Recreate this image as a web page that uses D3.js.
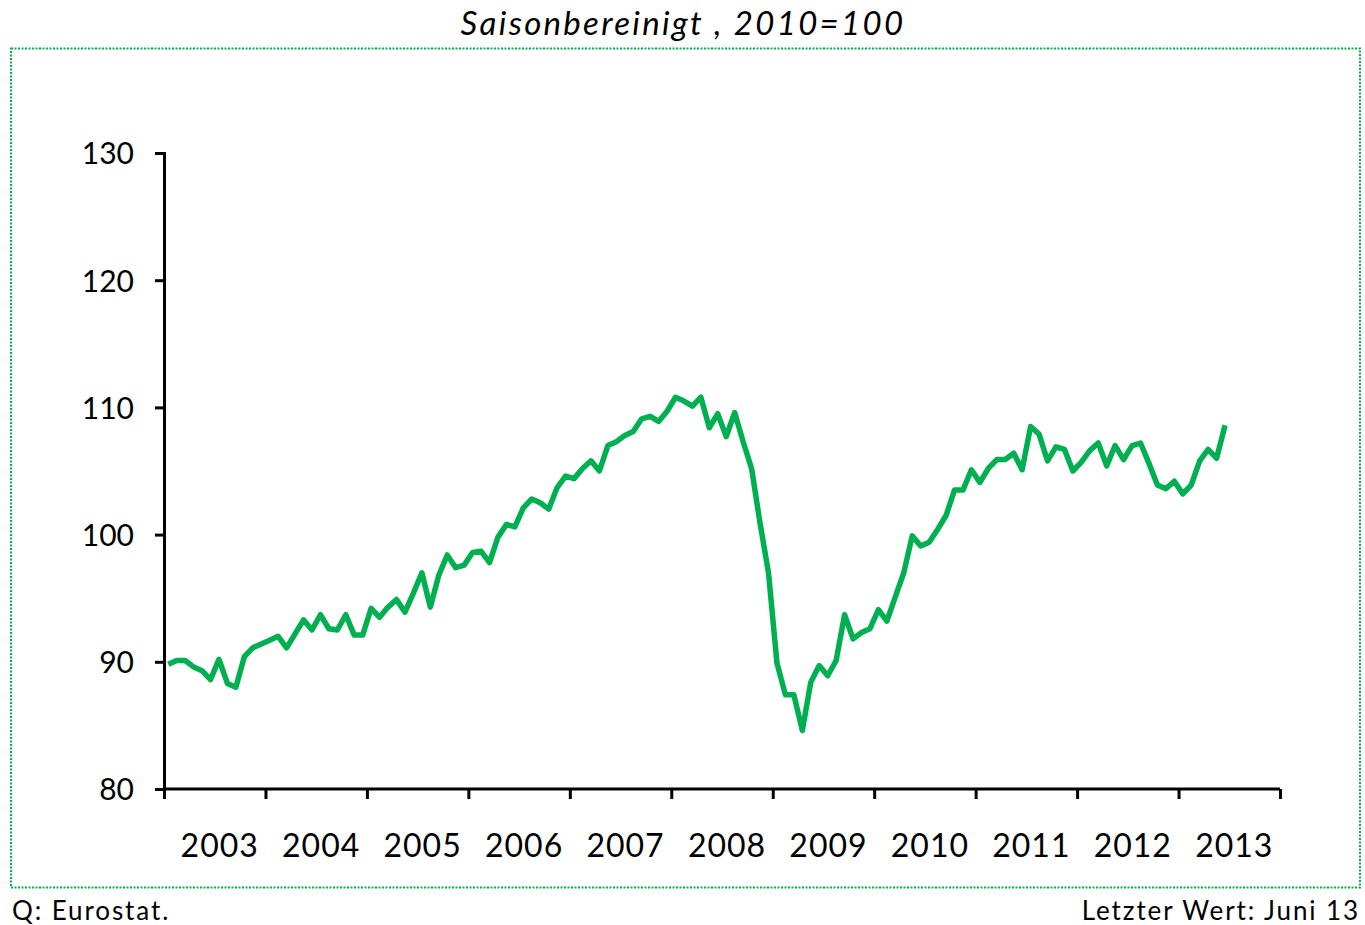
<!DOCTYPE html>
<html>
<head>
<meta charset="utf-8">
<script src="https://cdn.jsdelivr.net/npm/d3@7"></script>
<style>
  html, body { margin: 0; padding: 0; background: #fff; }
  svg { display: block; }
  text { font-family: "Century Gothic", "Lato", "DejaVu Sans", sans-serif; fill: #000; }
</style>
</head>
<body>
<svg id="chart" width="1365" height="925"></svg>
<script>
// ---- Data (monthly, Jan 2003 .. Jun 2013), index 2010 = 100 ----
const startYear = 2003;
const yearLabels = ["2003","2004","2005","2006","2007","2008","2009","2010","2011","2012","2013"];
const yTicks = [80, 90, 100, 110, 120, 130];
const values = [
  // 2003
  89.8, 90.1, 90.1, 89.6, 89.3, 88.6, 90.2, 88.3, 88.0, 90.4, 91.1, 91.4,
  // 2004
  91.7, 92.0, 91.1, 92.2, 93.3, 92.5, 93.7, 92.6, 92.5, 93.7, 92.1, 92.1,
  // 2005
  94.2, 93.5, 94.3, 94.9, 93.9, 95.4, 97.0, 94.3, 96.8, 98.4, 97.4, 97.6,
  // 2006
  98.6, 98.7, 97.8, 99.8, 100.8, 100.6, 102.1, 102.8, 102.5, 102.0, 103.7, 104.6,
  // 2007
  104.4, 105.2, 105.8, 105.0, 107.0, 107.3, 107.8, 108.1, 109.1, 109.3, 108.9, 109.7,
  // 2008
  110.8, 110.5, 110.1, 110.8, 108.4, 109.5, 107.7, 109.6, 107.3, 105.2, 100.9, 97.0,
  // 2009
  89.9, 87.4, 87.4, 84.6, 88.4, 89.7, 88.9, 90.1, 93.7, 91.8, 92.3, 92.6,
  // 2010
  94.1, 93.2, 95.1, 97.0, 99.9, 99.1, 99.4, 100.4, 101.5, 103.5, 103.5, 105.1,
  // 2011
  104.1, 105.2, 105.9, 105.9, 106.4, 105.1, 108.5, 107.9, 105.8, 106.9, 106.7, 105.0,
  // 2012
  105.7, 106.6, 107.2, 105.4, 107.0, 105.9, 107.0, 107.2, 105.6, 103.9, 103.6, 104.2,
  // 2013
  103.2, 103.9, 105.8, 106.7, 106.0, 108.6
];
const title = "Saisonbereinigt , 2010=100";
const sourceText = "Q: Eurostat.";
const lastValueText = "Letzter Wert: Juni 13";

// ---- Layout ----
const svg = d3.select("#chart");
const x0 = 164, x1 = 1280, yTop = 153, yBot = 789;
const nMonths = yearLabels.length * 12;
const green = "#00B050";

const x = d3.scaleLinear().domain([0, nMonths]).range([x0, x1]);
const y = d3.scaleLinear().domain([80, 130]).range([yBot, yTop]);

// title
svg.append("text")
  .attr("x", 683).attr("y", 35)
  .attr("text-anchor", "middle")
  .style("font-size", "33px").style("font-style", "italic")
  .style("letter-spacing", "2.3px")
  .text(title);

// dotted frame
svg.append("rect")
  .attr("x", 11).attr("y", 48.5).attr("width", 1349).attr("height", 839)
  .attr("fill", "none").attr("stroke", green).attr("stroke-width", 2)
  .attr("stroke-dasharray", "2,1.5");

// y axis
const yAxis = d3.axisLeft(y).tickValues(yTicks).tickSize(9).tickPadding(21).tickFormat(d3.format("d"));
const gy = svg.append("g").attr("transform", `translate(${x0},0)`).call(yAxis);
gy.select(".domain").attr("stroke", "#000").attr("stroke-width", 3);
gy.selectAll(".tick line").attr("stroke", "#000").attr("stroke-width", 3);
gy.selectAll(".tick text").style("font-size", "30px")
  .style("font-family", "'Century Gothic', 'Lato', sans-serif").attr("fill", "#000").attr("dy", "0.36em");

// x axis: ticks at year boundaries
const yearTicks = d3.range(0, nMonths + 1, 12);
const xAxis = d3.axisBottom(x).tickValues(yearTicks).tickSize(10).tickFormat("");
const gx = svg.append("g").attr("transform", `translate(0,${yBot})`).call(xAxis);
gx.select(".domain").attr("stroke", "#000").attr("stroke-width", 3)
  .attr("d", `M${x0},0H${x1}`);
gx.selectAll(".tick line").attr("stroke", "#000").attr("stroke-width", 3);

// year labels centred in each year interval
svg.append("g").selectAll("text")
  .data(yearLabels)
  .join("text")
  .attr("x", (d, i) => x(i * 12 + 6) + 5)
  .attr("y", 857)
  .attr("text-anchor", "middle")
  .style("font-size", "32px")
  .style("letter-spacing", "1px")
  .text(d => d);

// line
const line = d3.line()
  .x((d, i) => x(i + 0.5))
  .y(d => y(d));
svg.append("path")
  .datum(values)
  .attr("fill", "none")
  .attr("stroke", green)
  .attr("stroke-width", 5.5)
  .attr("stroke-linejoin", "round")
  .attr("d", line);

// footer
svg.append("text").attr("x", 12).attr("y", 920)
  .style("font-size", "26px").style("letter-spacing", "1.9px").text(sourceText);
svg.append("text").attr("x", 1360).attr("y", 920)
  .attr("text-anchor", "end")
  .style("font-size", "26px").style("letter-spacing", "1.9px").text(lastValueText);
</script>
</body>
</html>
